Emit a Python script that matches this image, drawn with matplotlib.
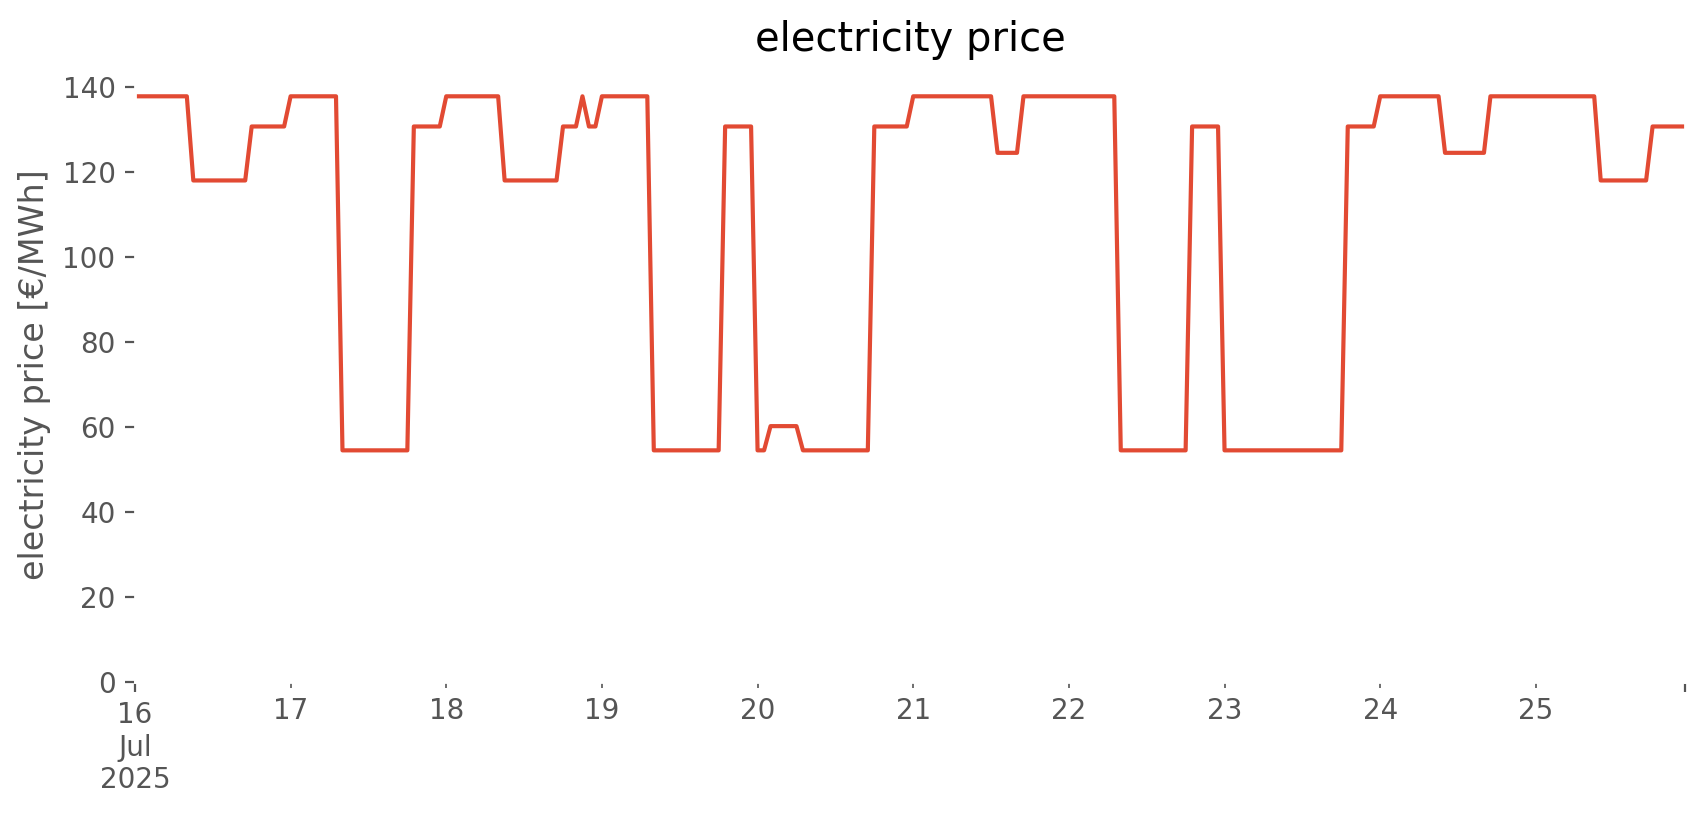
import numpy as np
import pandas as pd
import matplotlib
matplotlib.use('Agg')
import matplotlib.pyplot as plt

plt.style.use('ggplot')

# ---------------------- data: hourly price, read as flat runs ----------------------
start = '2025-07-16 00:00'
price_levels = [137.8, 118.0, 130.7, 137.8, 54.5, 130.7, 137.8, 118.0, 130.7, 137.8,
                130.7, 137.8, 54.5, 130.7, 54.5, 60.2, 54.5, 130.7, 137.8, 124.5,
                137.8, 54.5, 130.7, 54.5, 130.7, 137.8, 124.5, 137.8, 118.0, 130.7]
run_hours = [9, 9, 6, 8, 11, 5, 9, 9, 3, 1,
             2, 8, 11, 5, 2, 5, 11, 6, 13, 4,
             15, 11, 5, 19, 5, 10, 7, 17, 8, 6]

prices = np.repeat(price_levels, run_hours)
idx = pd.date_range(start, periods=len(prices), freq='h')
price = pd.Series(prices, index=idx, name='electricity price')

# ---------------------- plot ----------------------
DPI = 200
fig = plt.figure(figsize=(1706 / DPI, 815 / DPI), dpi=DPI, facecolor='white')
ax = fig.add_axes([0.0791, 0.1632, 0.9086, 0.7541])
price.plot(ax=ax, color='#E24A33', linewidth=1.5, legend=False)

ax.set_facecolor('white')
ax.grid(False)
ax.set_ylim(0, 144.6)
ax.set_yticks(range(0, 141, 20))
ax.set_title('electricity price')
ax.set_ylabel('electricity price [€/MWh]')
ax.set_xlabel('')

fig.savefig('out.png', dpi=DPI, facecolor='white')
